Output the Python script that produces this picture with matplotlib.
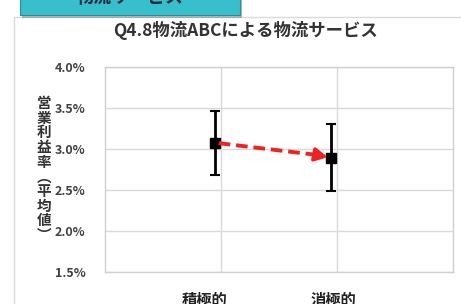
import matplotlib.pyplot as plt
from matplotlib.patches import Rectangle

plt.rcParams['font.family'] = ['Noto Sans CJK JP', 'DejaVu Sans']

# data
categories = ["積極的", "消極的"]
xpos = [0.95, 1.95]
means = [3.07, 2.89]
errs = [0.39, 0.41]
yticks = [1.5, 2.0, 2.5, 3.0, 3.5, 4.0]
title = "Q4.8物流ABCによる物流サービス"
ylabel = "営業利益率︵平均値︶"
header = "物流サービス"

W, H = 461, 304
fig = plt.figure(figsize=(W / 100, H / 100), dpi=100)

# slide panel + cut-off header box
fig.patches.append(Rectangle((14 / W, -0.05), 1, 1.05 - 17 / H, transform=fig.transFigure,
                             fc="white", ec="#d9d9d9", lw=1.0, zorder=-3))
fig.patches.append(Rectangle((22 / W, 1 - 18 / H), 220 / W, 20 / H, transform=fig.transFigure,
                             fc="#8a8a8a", ec="none", zorder=-2, alpha=0.6))
fig.patches.append(Rectangle((20 / W, 1 - 15 / H), 220 / W, 20 / H, transform=fig.transFigure,
                             fc="#38bfcc", ec="#2a8e99", lw=0.8, zorder=-1))
fig.text(130 / W, 1 - 7 / H, header, ha="center", va="bottom", fontsize=13,
         fontweight="bold", color="#1a2a3a")

ax = fig.add_axes([105 / W, 1 - 271.7 / H, 348 / W, 205.2 / H])
ax.set_xlim(0, 3)
ax.set_ylim(1.5, 4.0)
ax.set_xticks([1, 2])
ax.set_xticklabels([])
ax.set_yticks(yticks)
ax.set_yticklabels([f"{v:.1f}%" for v in yticks], fontsize=9, fontweight="bold", color="#404040")
ax.tick_params(length=0, pad=14)
ax.grid(True, color="#d9d9d9", lw=1.0)
ax.set_axisbelow(True)
for s in ax.spines.values():
    s.set_color("#d0d0d0")
    s.set_linewidth(1.0)

ax.errorbar(xpos, means, yerr=errs, fmt="s", color="black", ms=6.5, elinewidth=2,
            capsize=3.5, capthick=1.5, zorder=4)

# red dashed trend arrow
ax.plot([xpos[0] + 0.03, xpos[1] - 0.13], [means[0] - 0.004, means[1] + 0.034],
        color="#ee2222", lw=2.8, ls=(0, (3, 1.5)), zorder=5)
ax.annotate("", xy=(xpos[1] - 0.03, means[1] + 0.005),
            xytext=(xpos[1] - 0.14, means[1] + 0.036),
            arrowprops=dict(arrowstyle="-|>,head_width=0.4,head_length=0.75",
                            color="#ee2222", lw=2.5, shrinkA=0, shrinkB=0), zorder=5)

fig.text(245 / W, 1 - 31 / H, title, ha="center", va="center", fontsize=12.5,
         fontweight="bold", color="#333333")
fig.text(44 / W, 1 - 169 / H, "\n".join(ylabel), ha="center", va="center", fontsize=10.5,
         fontweight="bold", color="#333333", linespacing=0.9)

for lbl, xc in zip(categories, [205, 333]):
    fig.text(xc / W, 1 - 300 / H, lbl, ha="center", va="center", fontsize=11,
             fontweight="bold", color="#222222")

fig.savefig("out.png", dpi=100)
